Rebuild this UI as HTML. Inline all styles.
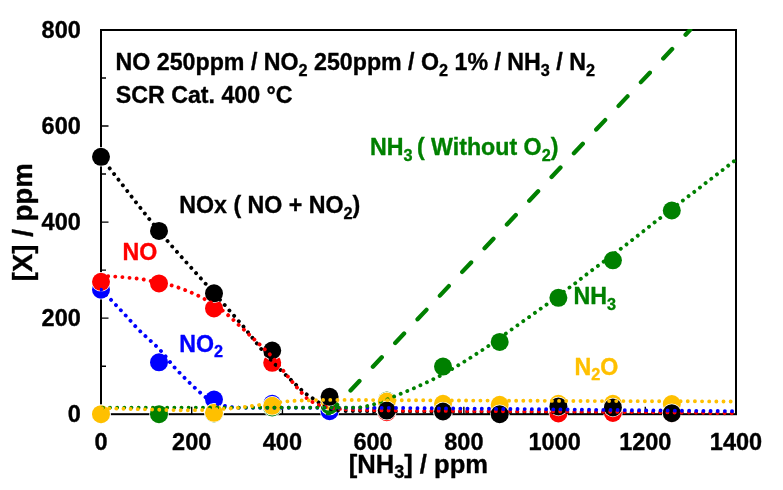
<!DOCTYPE html>
<html><head><meta charset="utf-8"><title>chart</title>
<style>html,body{margin:0;padding:0;background:#fff}body{width:783px;height:490px;overflow:hidden}svg{display:block;filter:blur(0.35px)}text{font-family:"Liberation Sans",sans-serif;font-weight:bold;stroke-width:0.35px;stroke-linejoin:round}</style></head><body>
<svg width="783" height="490" viewBox="0 0 783 490">
<rect width="783" height="490" fill="#fff"/>
<rect x="101.0" y="30.0" width="635.0" height="384.2" fill="none" stroke="#000" stroke-width="2"/>
<path d="M101.0 366.18h5M101.0 318.15h7.5M101.0 270.12h5M101.0 222.10h7.5M101.0 174.07h5M101.0 126.05h7.5M101.0 78.02h5M191.71 414.2v-7.5M282.43 414.2v-7.5M373.14 414.2v-7.5M463.86 414.2v-7.5M554.57 414.2v-7.5M645.29 414.2v-7.5" stroke="#000" stroke-width="1.4" fill="none"/>
<text stroke="#000" x="80.8" y="422.3" font-size="23.5" text-anchor="end">0</text>
<text stroke="#000" x="80.8" y="326.2" font-size="23.5" text-anchor="end">200</text>
<text stroke="#000" x="80.8" y="230.2" font-size="23.5" text-anchor="end">400</text>
<text stroke="#000" x="80.8" y="134.2" font-size="23.5" text-anchor="end">600</text>
<text stroke="#000" x="80.8" y="38.1" font-size="23.5" text-anchor="end">800</text>
<text stroke="#000" x="101.0" y="449.8" font-size="23.5" text-anchor="middle">0</text>
<text stroke="#000" x="191.7" y="449.8" font-size="23.5" text-anchor="middle">200</text>
<text stroke="#000" x="282.4" y="449.8" font-size="23.5" text-anchor="middle">400</text>
<text stroke="#000" x="373.1" y="449.8" font-size="23.5" text-anchor="middle">600</text>
<text stroke="#000" x="463.9" y="449.8" font-size="23.5" text-anchor="middle">800</text>
<text stroke="#000" x="554.6" y="449.8" font-size="23.5" text-anchor="middle">1000</text>
<text stroke="#000" x="645.3" y="449.8" font-size="23.5" text-anchor="middle">1200</text>
<text stroke="#000" x="736.0" y="449.8" font-size="23.5" text-anchor="middle">1400</text>
<text stroke="#000" x="418.4" y="472.6" font-size="25.6" text-anchor="middle">[NH<tspan font-size="70%" dy="5.8">3</tspan><tspan dy="-5.8">] / ppm</tspan></text>
<text stroke="#000" transform="translate(32,222.3) rotate(-90)" font-size="26.8" text-anchor="middle" textLength="118" lengthAdjust="spacingAndGlyphs">[X] / ppm</text>
<clipPath id="cp"><rect x="100.0" y="29.0" width="637.0" height="386.2"/></clipPath>
<g fill="#0000FF" stroke="#fff" stroke-width="1.5" paint-order="stroke">
<circle cx="101" cy="289.7" r="9.0"/>
<circle cx="159" cy="362.3" r="9.0"/>
<circle cx="214" cy="399.5" r="9.0"/>
<circle cx="272.2" cy="403.8" r="9.0"/>
<circle cx="329.6" cy="411.2" r="9.0"/>
<circle cx="386.8" cy="411.0" r="9.0"/>
<circle cx="443" cy="411.5" r="9.0"/>
<circle cx="499.7" cy="412.0" r="9.0"/>
<circle cx="558.4" cy="411.0" r="9.0"/>
<circle cx="612.9" cy="411.0" r="9.0"/>
<circle cx="671.8" cy="412.0" r="9.0"/>
</g>
<g fill="#FF0000" stroke="#fff" stroke-width="1.5" paint-order="stroke">
<circle cx="101" cy="281.8" r="9.0"/>
<circle cx="159" cy="283.4" r="9.0"/>
<circle cx="214" cy="308.4" r="9.0"/>
<circle cx="272.2" cy="362.8" r="9.0"/>
<circle cx="329.6" cy="403.5" r="9.0"/>
<circle cx="386.8" cy="412.2" r="9.0"/>
<circle cx="443" cy="412.0" r="9.0"/>
<circle cx="499.7" cy="413.5" r="9.0"/>
<circle cx="558.4" cy="413.4" r="9.0"/>
<circle cx="612.9" cy="412.9" r="9.0"/>
<circle cx="671.8" cy="413.5" r="9.0"/>
</g>
<g fill="#008000" stroke="#fff" stroke-width="1.5" paint-order="stroke">
<circle cx="101" cy="414.2" r="9.0"/>
<circle cx="159" cy="414.2" r="9.0"/>
<circle cx="214" cy="413.5" r="9.0"/>
<circle cx="272.2" cy="407.4" r="9.0"/>
<circle cx="329.6" cy="405.5" r="9.0"/>
<circle cx="386.8" cy="400.6" r="9.0"/>
<circle cx="443" cy="366.6" r="9.0"/>
<circle cx="499.7" cy="341.9" r="9.0"/>
<circle cx="558.4" cy="297.8" r="9.0"/>
<circle cx="612.9" cy="260.3" r="9.0"/>
<circle cx="671.8" cy="210.5" r="9.0"/>
</g>
<g fill="#FFC000" stroke="#fff" stroke-width="1.5" paint-order="stroke">
<circle cx="101" cy="414.2" r="9.0"/>
<circle cx="214" cy="412.8" r="9.0"/>
<circle cx="272.2" cy="405.8" r="9.0"/>
<circle cx="329.6" cy="401.0" r="9.0"/>
<circle cx="386.8" cy="401.5" r="9.0"/>
<circle cx="443" cy="403.8" r="9.0"/>
<circle cx="499.7" cy="404.8" r="9.0"/>
<circle cx="558.4" cy="403.8" r="9.0"/>
<circle cx="612.9" cy="403.8" r="9.0"/>
<circle cx="671.8" cy="404.0" r="9.0"/>
</g>
<g fill="#000000" stroke="#fff" stroke-width="1.5" paint-order="stroke">
<circle cx="101" cy="156.8" r="9.0"/>
<circle cx="159" cy="230.9" r="9.0"/>
<circle cx="214" cy="293.3" r="9.0"/>
<circle cx="272.2" cy="350.5" r="9.0"/>
<circle cx="329.6" cy="396.8" r="9.0"/>
<circle cx="386.8" cy="410.6" r="9.0"/>
<circle cx="443" cy="411.5" r="9.0"/>
<circle cx="499.7" cy="414.2" r="9.0"/>
<circle cx="558.4" cy="406.4" r="9.0"/>
<circle cx="612.9" cy="407.4" r="9.0"/>
<circle cx="671.8" cy="413.2" r="9.0"/>
</g>
<g clip-path="url(#cp)" fill="none" stroke-linecap="round" stroke-linejoin="round">
<path d="M328.2 414.2L690.2 29.8" stroke="#008000" stroke-width="4.3" stroke-dasharray="13 19.58"/>
<path d="M101.0 157.0L103.8 160.6L107.3 165.2L111.5 170.6L116.1 176.6L121.2 183.2L126.6 190.1L132.1 197.3L137.7 204.5L143.4 211.6L148.8 218.5L154.1 225.0L159.0 231.0L163.8 236.7L168.7 242.4L173.6 248.1L178.6 253.7L183.6 259.3L188.5 264.8L193.3 270.0L197.9 275.2L202.3 280.0L206.5 284.7L210.4 289.0L214.0 293.0L217.2 296.7L220.2 300.0L222.9 303.0L225.4 305.8L227.6 308.4L229.7 310.8L231.7 313.0L233.5 315.1L235.3 317.1L237.0 319.0L238.6 321.0L240.3 322.9L241.9 324.8L243.4 326.5L244.7 328.2L246.0 329.7L247.2 331.2L248.3 332.6L249.3 333.9L250.3 335.1L251.3 336.3L252.2 337.5L253.1 338.7L254.0 339.8L254.9 340.9L255.7 341.9L256.4 342.9L257.1 343.7L257.7 344.6L258.4 345.4L259.0 346.2L259.6 347.0L260.2 347.8L260.9 348.6L261.6 349.4L262.3 350.3L263.1 351.2L263.9 352.1L264.7 353.1L265.6 354.0L266.4 355.0L267.3 355.9L268.2 356.9L269.0 357.8L269.9 358.7L270.8 359.7L271.6 360.6L272.5 361.5L273.3 362.4L274.1 363.2L274.8 363.9L275.5 364.7L276.3 365.4L277.0 366.2L277.8 367.0L278.6 367.8L279.5 368.7L280.4 369.7L281.5 370.7L282.7 371.9L284.1 373.2L285.6 374.8L287.3 376.4L289.2 378.2L291.0 380.0L293.0 381.9L294.9 383.7L296.7 385.5L298.4 387.1L300.1 388.6L301.5 390.0L302.7 391.1L303.7 392.0L304.5 392.7L305.2 393.3L305.8 393.7L306.2 394.0L306.6 394.3L307.0 394.5L307.3 394.7L307.6 394.8L307.9 395.0L308.3 395.3L308.8 395.6L309.3 396.0L309.8 396.3L310.4 396.7L310.9 397.1L311.4 397.4L311.9 397.8L312.5 398.2L313.0 398.5L313.5 398.9L314.0 399.2L314.5 399.6L315.0 399.9L315.5 400.2L315.9 400.5L316.4 400.9L316.8 401.2L317.2 401.5L317.7 401.8L318.1 402.1L318.5 402.4L319.0 402.7L319.4 403.0L319.9 403.3L320.4 403.6L320.9 403.9L321.4 404.3L322.0 404.6L322.5 404.9L323.1 405.3L323.6 405.6L324.2 406.0L324.7 406.3L325.3 406.6L325.9 406.9L326.4 407.2L327.0 407.5L327.6 407.8L328.1 408.0L328.7 408.3L329.2 408.5L329.8 408.7L330.4 408.9L330.9 409.1L331.5 409.3L332.1 409.5L332.6 409.7L333.2 409.9L333.8 410.0L334.4 410.1L335.0 410.2L335.7 410.3L336.4 410.4L337.1 410.5L337.8 410.6L338.4 410.6L339.0 410.7L339.6 410.7L340.1 410.7L340.6 410.8L340.9 410.8" stroke="#000000" stroke-width="3.9" stroke-dasharray="0.01 7.14" stroke-dashoffset="0"/>
<path d="M345.7 411.0L350.5 411.0L356.3 411.1L362.9 411.1L370.3 411.2L378.4 411.3L387.2 411.3L396.6 411.4L406.5 411.5L416.9 411.6L427.6 411.7L438.7 411.7L450.0 411.8L462.0 411.9L475.2 411.9L489.1 412.0L503.8 412.1L518.9 412.1L534.3 412.2L549.7 412.3L564.9 412.3L579.8 412.4L594.0 412.5L607.5 412.5L620.0 412.6L631.9 412.7L643.8 412.8L655.5 412.9L667.0 413.0L678.0 413.1L688.6 413.2L698.6 413.2L707.9 413.3L716.4 413.4L724.0 413.5L730.6 413.6L736.0 413.6" stroke="#000000" stroke-width="3.9" stroke-dasharray="0.01 7.14" stroke-dashoffset="0"/>
<path d="M101.0 276.0L101.6 276.0L102.3 276.0L103.2 276.1L104.1 276.1L105.2 276.1L106.3 276.2L107.5 276.2L108.7 276.3L109.9 276.3L111.1 276.4L112.3 276.4L113.4 276.5L114.5 276.6L115.7 276.7L116.9 276.7L118.1 276.8L119.3 276.9L120.5 277.0L121.8 277.1L123.0 277.2L124.2 277.4L125.5 277.5L126.7 277.6L127.9 277.7L129.1 277.8L130.3 277.9L131.5 278.0L132.6 278.1L133.8 278.2L135.0 278.3L136.2 278.5L137.3 278.6L138.6 278.7L139.8 278.9L141.0 279.1L142.3 279.3L143.6 279.5L145.0 279.8L146.4 280.1L147.8 280.4L149.3 280.8L150.7 281.1L152.1 281.5L153.6 281.8L154.9 282.1L156.3 282.4L157.6 282.7L158.8 283.0L159.9 283.2L161.0 283.4L162.1 283.6L163.0 283.8L164.0 283.9L164.9 284.0L165.8 284.2L166.8 284.3L167.7 284.5L168.7 284.7L169.7 284.9L170.7 285.2L171.8 285.5L172.9 285.8L174.0 286.2L175.2 286.5L176.4 286.9L177.5 287.3L178.7 287.7L179.9 288.2L181.1 288.6L182.3 289.0L183.4 289.5L184.6 289.9L185.7 290.3L186.9 290.8L188.0 291.2L189.1 291.7L190.2 292.1L191.3 292.6L192.5 293.1L193.6 293.6L194.7 294.1L195.9 294.6L197.1 295.2L198.3 295.8L199.5 296.4L200.8 297.1L202.1 297.7L203.5 298.4L204.8 299.2L206.2 299.9L207.5 300.6L208.8 301.4L210.2 302.2L211.5 302.9L212.8 303.7L214.0 304.5L215.2 305.3L216.2 305.9L217.2 306.6L218.2 307.3L219.2 307.9L220.1 308.6L221.1 309.4L222.2 310.2L223.3 311.1L224.6 312.1L226.0 313.3L227.6 314.7L229.4 316.3L231.5 318.1L233.7 320.2L236.1 322.4L238.5 324.7L241.0 327.0L243.5 329.3L245.9 331.6L248.3 333.8L250.4 335.9L252.4 337.7L254.1 339.3L255.6 340.7L256.8 341.8L258.0 342.9L258.9 343.8L259.8 344.6L260.6 345.3L261.3 346.0L262.0 346.6L262.7 347.3L263.4 348.0L264.2 348.7L265.0 349.5L265.8 350.3L266.6 351.1L267.4 351.9L268.2 352.7L268.9 353.5L269.7 354.2L270.4 355.1L271.2 355.9L272.0 356.8L272.8 357.7L273.7 358.7L274.6 359.8L275.6 361.0L276.6 362.3L277.7 363.6L278.9 365.1L280.0 366.5L281.2 368.0L282.4 369.5L283.5 371.0L284.7 372.5L285.8 373.8L286.8 375.2L287.8 376.4L288.7 377.5L289.6 378.6L290.5 379.7L291.3 380.7L292.1 381.7L292.8 382.6L293.6 383.5L294.3 384.4L295.1 385.3L295.9 386.2L296.6 387.1L297.4 388.0L298.2 388.9L299.0 389.9L299.9 390.8L300.7 391.8L301.6 392.7L302.4 393.6L303.2 394.5L304.0 395.4L304.8 396.2L305.5 396.9L306.2 397.6L306.8 398.2L307.3 398.7L307.8 399.1L308.2 399.5L308.6 399.7L308.9 400.0L309.2 400.2L309.5 400.3L309.8 400.5L310.1 400.6L310.5 400.8L310.8 401.0L311.3 401.3L311.8 401.6L312.3 401.9L312.9 402.2L313.5 402.6L314.1 402.9L314.7 403.2L315.3 403.5L316.0 403.9L316.6 404.2L317.3 404.5L317.9 404.7L318.5 405.0L319.1 405.2L319.7 405.4L320.4 405.6L321.0 405.8L321.6 406.0L322.3 406.2L322.9 406.3L323.5 406.5L324.2 406.6L324.8 406.7L325.4 406.9L326.0 407.0L326.6 407.1L327.2 407.3L327.8 407.4L328.4 407.5L329.0 407.6L329.5 407.7L330.1 407.8L330.7 407.9L331.3 408.0L331.8 408.0L332.4 408.1L333.0 408.2L333.6 408.3L334.2 408.4L334.9 408.4L335.6 408.5L336.3 408.6L336.9 408.6L337.6 408.7L338.2 408.7L338.7 408.8L339.2 408.8L339.7 408.9L340.0 408.9" stroke="#FF0000" stroke-width="3.9" stroke-dasharray="0.01 7.14" stroke-dashoffset="0"/>
<path d="M345.7 409.4L347.6 409.5L349.8 409.5L352.4 409.6L355.3 409.7L358.4 409.8L361.9 409.9L365.5 410.0L369.3 410.1L373.3 410.2L377.4 410.3L381.7 410.4L386.0 410.5L390.2 410.6L394.1 410.6L397.8 410.6L401.7 410.7L405.6 410.7L409.9 410.7L414.6 410.7L419.9 410.7L426.0 410.8L432.9 410.8L440.9 410.8L450.0 410.9L460.6 411.0L472.8 411.0L486.3 411.1L500.8 411.2L516.1 411.3L531.8 411.3L547.6 411.4L563.4 411.5L578.8 411.6L593.6 411.7L607.4 411.8L620.0 411.9L631.9 412.0L643.8 412.1L655.5 412.2L667.0 412.4L678.0 412.5L688.6 412.6L698.6 412.7L707.9 412.9L716.4 413.0L724.0 413.1L730.6 413.1L736.0 413.2" stroke="#FF0000" stroke-width="3.9" stroke-dasharray="0.01 7.14" stroke-dashoffset="0"/>
<path d="M101.0 289.7L101.4 290.1L101.9 290.6L102.5 291.2L103.1 291.8L103.8 292.5L104.6 293.2L105.4 294.0L106.2 294.9L107.1 295.8L108.1 296.7L109.0 297.7L110.0 298.7L111.0 299.8L112.1 300.9L113.3 302.1L114.5 303.4L115.7 304.8L117.0 306.1L118.3 307.5L119.6 308.9L120.9 310.3L122.2 311.7L123.5 313.1L124.7 314.4L125.9 315.7L127.1 317.0L128.2 318.3L129.4 319.6L130.5 320.8L131.6 322.1L132.8 323.4L134.0 324.7L135.2 326.1L136.5 327.5L137.9 328.9L139.3 330.3L140.8 331.8L142.4 333.3L144.1 334.9L145.9 336.6L147.7 338.2L149.5 339.9L151.3 341.5L153.1 343.2L154.9 344.8L156.6 346.5L158.2 348.1L159.7 349.6L161.1 351.1L162.4 352.6L163.7 354.1L164.9 355.5L166.0 357.0L167.2 358.4L168.3 359.8L169.4 361.3L170.5 362.7L171.6 364.0L172.8 365.4L174.0 366.8L175.2 368.2L176.5 369.5L177.8 370.9L179.0 372.2L180.3 373.5L181.6 374.9L182.9 376.2L184.2 377.5L185.5 378.7L186.7 380.0L188.0 381.3L189.3 382.5L190.6 383.7L191.9 385.0L193.3 386.3L194.6 387.6L196.0 388.8L197.3 390.0L198.6 391.3L199.9 392.4L201.2 393.5L202.4 394.6L203.5 395.5L204.6 396.4L205.6 397.2L206.5 397.9L207.3 398.5L208.1 399.1L208.8 399.6L209.6 400.1L210.3 400.5L211.0 400.9L211.7 401.3L212.4 401.7L213.2 402.1L214.0 402.5L214.9 402.9L215.8 403.3L216.7 403.6L217.7 403.9L218.7 404.3L219.6 404.5L220.6 404.8L221.6 405.1L222.5 405.3L223.4 405.6L224.3 405.8L225.1 406.0L225.9 406.2L226.7 406.4L227.5 406.5L228.3 406.6L229.0 406.8L229.7 406.9L230.4 407.0L231.1 407.0L231.7 407.1L232.2 407.2L232.6 407.2L233.0 407.3" stroke="#0000FF" stroke-width="3.9" stroke-dasharray="0.01 7.14" stroke-dashoffset="0"/>
<path d="M238.7 407.7L241.5 407.7L245.0 407.7L249.1 407.7L253.6 407.7L258.6 407.7L263.9 407.7L269.6 407.8L275.5 407.8L281.5 407.8L287.6 407.8L293.8 407.8L300.0 407.8L306.4 407.8L313.2 407.8L320.3 407.8L327.7 407.8L335.2 407.8L342.8 407.8L350.5 407.8L358.1 407.8L365.5 407.8L372.7 407.9L379.5 407.9L386.0 407.9L392.0 407.9L397.5 408.0L402.7 408.0L407.6 408.1L412.4 408.1L417.1 408.2L421.9 408.2L426.8 408.3L432.0 408.3L437.5 408.4L443.5 408.4L450.0 408.5L457.2 408.6L464.9 408.6L473.2 408.7L481.8 408.8L490.6 408.8L499.6 408.9L508.6 409.0L517.6 409.0L526.3 409.1L534.7 409.2L542.6 409.2L550.0 409.3L556.7 409.4L562.9 409.4L568.5 409.5L573.9 409.6L579.0 409.6L584.0 409.7L589.1 409.7L594.4 409.8L600.0 409.9L606.0 409.9L612.7 410.0L620.0 410.1L628.4 410.2L638.0 410.3L648.5 410.4L659.6 410.5L670.9 410.6L682.4 410.7L693.6 410.8L704.2 410.9L714.1 411.0L722.8 411.1L730.2 411.1L736.0 411.2" stroke="#0000FF" stroke-width="3.9" stroke-dasharray="0.01 7.14" stroke-dashoffset="0"/>
<path d="M95.7 407.6L100.6 407.6L106.7 407.6L113.8 407.6L121.8 407.6L130.4 407.6L139.7 407.6L149.4 407.6L159.5 407.6L169.7 407.6L179.9 407.6L190.1 407.6L200.0 407.6L210.3 407.6L221.4 407.6L233.2 407.6L245.3 407.6L257.7 407.6L270.0 407.6L282.0 407.6L293.5 407.6L304.3 407.6L314.1 407.6L322.8 407.6L330.0 407.6L335.8 407.6L340.4 407.6L344.0 407.6L346.7 407.6L348.7 407.6L350.1 407.6L351.1 407.6L351.8 407.6L352.4 407.6L353.0 407.6L353.8 407.6L355.0 407.6L356.3 407.6L357.3 407.5L358.2 407.5L359.0 407.5L359.6 407.4L360.2 407.4L360.7 407.3L361.1 407.3L361.5 407.2L362.0 407.2L362.5 407.1L363.0 407.0L363.6 406.9L364.1 406.8L364.7 406.7L365.2 406.6L365.7 406.5L366.2 406.4L366.6 406.3L367.1 406.1L367.6 406.0L368.1 405.9L368.7 405.7L369.2 405.6L369.7 405.5L370.3 405.3L370.8 405.2L371.3 405.1L371.8 404.9L372.3 404.8L372.9 404.6L373.4 404.4L374.1 404.3L374.7 404.0L375.5 403.8L376.3 403.5L377.2 403.2L378.2 402.8L379.2 402.4L380.3 402.0L381.4 401.6L382.6 401.2L383.7 400.7L384.9 400.2L386.1 399.8L387.3 399.3L388.5 398.9L389.6 398.4L390.7 398.0L391.8 397.5L392.9 397.0L394.0 396.6L395.1 396.1L396.2 395.6L397.4 395.2L398.5 394.7L399.6 394.2L400.7 393.7L401.8 393.3L402.9 392.8L404.0 392.3L405.1 391.9L406.2 391.4L407.3 391.0L408.4 390.5L409.5 390.0L410.7 389.6L411.8 389.1L412.9 388.6L414.0 388.2L415.1 387.7L416.2 387.2L417.3 386.7L418.4 386.2L419.5 385.7L420.6 385.2L421.7 384.7L422.9 384.2L424.0 383.6L425.1 383.1L426.2 382.6L427.3 382.1L428.4 381.5L429.5 381.0L430.6 380.5L431.7 379.9L432.9 379.4L434.0 378.8L435.1 378.2L436.3 377.7L437.4 377.1L438.5 376.6L439.6 376.0L440.7 375.4L441.8 374.9L442.8 374.3L443.8 373.7L444.8 373.2L445.8 372.6L446.8 372.1L447.7 371.5L448.7 371.0L449.6 370.4L450.5 369.9L451.5 369.3L452.4 368.8L453.4 368.2L454.4 367.6L455.4 367.0L456.4 366.4L457.4 365.8L458.5 365.2L459.5 364.5L460.5 363.9L461.5 363.3L462.6 362.7L463.6 362.0L464.6 361.4L465.7 360.7L466.7 360.1L467.7 359.5L468.7 358.8L469.8 358.2L470.8 357.5L471.8 356.9L472.8 356.2L473.8 355.6L474.9 354.9L475.9 354.3L476.9 353.6L477.9 353.0L478.9 352.3L479.9 351.6L480.9 351.0L482.0 350.3L483.0 349.6L484.0 348.9L485.1 348.2L486.1 347.5L487.1 346.8L488.1 346.2L489.0 345.5L489.9 344.9L490.8 344.3L491.6 343.7L492.4 343.2L493.2 342.7L493.9 342.1L494.6 341.7L495.3 341.2L495.9 340.7L496.6 340.2L497.3 339.7L498.0 339.2L498.7 338.7L499.4 338.2L500.2 337.7L500.9 337.1L501.7 336.6L502.4 336.0L503.2 335.5L504.0 334.9L504.8 334.4L505.5 333.8L506.3 333.3L507.2 332.7L508.0 332.1L508.8 331.5L509.6 330.9L510.3 330.4L511.0 329.9L511.7 329.4L512.4 328.9L513.1 328.4L513.9 327.8L514.8 327.2L515.7 326.5L516.8 325.7L518.0 324.9L519.4 323.9L521.0 322.8L522.8 321.5L524.8 320.1L526.9 318.6L529.2 317.0L531.5 315.4L533.8 313.7L536.0 312.1L538.2 310.5L540.3 309.0L542.3 307.7L544.0 306.4L545.6 305.3L547.0 304.2L548.3 303.2L549.5 302.3L550.7 301.4L551.8 300.6L552.8 299.7L553.9 298.9L554.9 298.1L556.0 297.3L557.1 296.5L558.3 295.6L559.5 294.7L560.7 293.9L561.9 293.0L563.1 292.2L564.2 291.3L565.4 290.5L566.6 289.6L567.8 288.7L569.1 287.8L570.3 286.9L571.6 286.0L572.9 285.0L574.3 284.0L575.7 282.9L577.1 281.8L578.6 280.6L580.1 279.4L581.6 278.2L583.1 277.0L584.6 275.9L586.0 274.8L587.4 273.7L588.8 272.7L590.0 271.7L591.2 270.8L592.3 270.0L593.3 269.2L594.3 268.5L595.3 267.8L596.2 267.1L597.1 266.4L598.0 265.8L598.9 265.1L599.8 264.5L600.8 263.8L601.7 263.1L602.6 262.4L603.5 261.7L604.4 261.1L605.2 260.4L606.1 259.8L606.9 259.1L607.8 258.5L608.7 257.8L609.7 257.1L610.7 256.3L611.7 255.5L612.9 254.6L614.1 253.7L615.3 252.8L616.6 251.8L617.9 250.9L619.2 249.9L620.6 248.9L622.0 247.8L623.5 246.7L625.1 245.5L626.8 244.2L628.5 242.8L630.4 241.4L632.4 239.8L634.6 238.1L636.9 236.3L639.3 234.4L641.8 232.4L644.4 230.4L646.9 228.4L649.5 226.4L652.0 224.4L654.4 222.5L656.8 220.6L659.0 218.9L661.1 217.3L663.1 215.7L665.1 214.2L667.0 212.7L668.9 211.3L670.7 209.8L672.5 208.4L674.3 207.0L676.1 205.7L678.0 204.3L679.8 202.8L681.7 201.4L683.6 199.9L685.6 198.4L687.5 196.9L689.5 195.4L691.5 193.9L693.5 192.4L695.5 190.9L697.4 189.4L699.3 188.0L701.1 186.6L702.9 185.2L704.6 183.9L706.2 182.6L707.8 181.4L709.3 180.3L710.8 179.1L712.3 178.0L713.7 176.9L715.1 175.8L716.4 174.8L717.8 173.8L719.1 172.7L720.4 171.7L721.7 170.7L723.0 169.7L724.4 168.6L725.8 167.5L727.2 166.4L728.6 165.3L729.9 164.3L731.2 163.3L732.4 162.3L733.5 161.5L734.5 160.7L735.3 160.0L736.0 159.5" stroke="#008000" stroke-width="3.9" stroke-dasharray="0.01 7.14" stroke-dashoffset="0"/>
<path d="M94.9 408.0L97.1 408.1L99.8 408.1L102.9 408.2L106.5 408.3L110.3 408.4L114.5 408.5L118.7 408.7L123.1 408.8L127.5 408.9L131.8 409.0L136.0 409.1L140.0 409.2L143.9 409.3L147.9 409.4L151.9 409.5L156.0 409.6L160.1 409.8L164.2 409.9L168.3 410.0L172.3 410.1L176.4 410.1L180.3 410.2L184.2 410.2L188.0 410.2L191.8 410.2L195.6 410.1L199.4 410.0L203.2 409.9L206.9 409.7L210.6 409.6L214.2 409.4L217.7 409.2L221.0 409.0L224.2 408.9L227.2 408.7L230.0 408.5L232.5 408.3L234.7 408.2L236.6 408.0L238.3 407.8L239.9 407.6L241.4 407.4L242.9 407.2L244.4 407.0L246.0 406.8L247.8 406.6L249.7 406.3L252.0 406.0L254.5 405.7L257.3 405.3L260.3 404.9L263.4 404.5L266.6 404.0L269.9 403.6L273.1 403.1L276.4 402.7L279.5 402.3L282.5 401.9L285.2 401.6L287.8 401.3L290.1 401.1L292.3 400.9L294.4 400.8L296.3 400.7L298.1 400.6L299.9 400.5L301.6 400.5L303.3 400.5L304.9 400.4L306.6 400.4L308.3 400.4L310.0 400.3L311.6 400.2L312.9 400.2L314.0 400.1L315.0 400.1L316.0 400.1L317.0 400.0L318.2 400.0L319.7 400.0L321.5 399.9L323.8 399.9L326.6 399.9L330.0 399.9L334.0 399.9L338.4 399.9L343.3 399.9L348.5 399.9L354.1 400.0L360.0 400.0L366.2 400.0L372.6 400.1L379.2 400.1L386.0 400.1L393.0 400.2L400.0 400.2L406.9 400.2L413.4 400.3L419.7 400.3L426.1 400.3L432.7 400.4L439.6 400.4L447.2 400.5L455.5 400.5L464.7 400.5L475.1 400.6L486.8 400.6L500.0 400.7L515.7 400.8L534.2 400.8L555.0 400.9L577.3 401.0L600.6 401.1L624.2 401.1L647.5 401.2L669.8 401.3L690.4 401.3L708.8 401.4L724.2 401.5L736.0 401.5" stroke="#FFC000" stroke-width="3.9" stroke-dasharray="0.01 7.14" stroke-dashoffset="0"/>
</g>
<text stroke="#000" x="115.6" y="70.1" font-size="23.2">NO 250ppm / NO<tspan font-size="70%" dy="5.8">2</tspan><tspan dy="-5.8"> 250ppm / O</tspan><tspan font-size="70%" dy="5.8">2</tspan><tspan dy="-5.8"> 1% / NH</tspan><tspan font-size="70%" dy="5.8">3</tspan><tspan dy="-5.8"> / N</tspan><tspan font-size="70%" dy="5.8">2</tspan></text>
<text stroke="#000" x="115.8" y="102.8" font-size="23.2">SCR Cat. 400 °C</text>
<text stroke="#000" x="179.3" y="213.2" font-size="23.2">NOx ( NO + NO<tspan font-size="70%" dy="5.8">2</tspan><tspan dy="-5.8">)</tspan></text>
<text stroke="#FF0000" x="122.5" y="260.0" font-size="23.2" fill="#FF0000">NO</text>
<text stroke="#0000FF" x="179.3" y="351.6" font-size="23.2" fill="#0000FF">NO<tspan font-size="70%" dy="5.8">2</tspan></text>
<text stroke="#008000" x="369.9" y="154.7" font-size="23.2" fill="#008000" xml:space="preserve">NH<tspan font-size="70%" dy="5.8">3 </tspan><tspan dy="-5.8">( Without O</tspan><tspan font-size="70%" dy="5.8">2</tspan><tspan dy="-5.8">)</tspan></text>
<text stroke="#008000" x="573.5" y="303.9" font-size="23.2" fill="#008000">NH<tspan font-size="70%" dy="5.8">3</tspan></text>
<text stroke="#FFC000" x="574.4" y="374.6" font-size="23.2" fill="#FFC000">N<tspan font-size="70%" dy="5.8">2</tspan><tspan dy="-5.8">O</tspan></text>
</svg></body></html>
